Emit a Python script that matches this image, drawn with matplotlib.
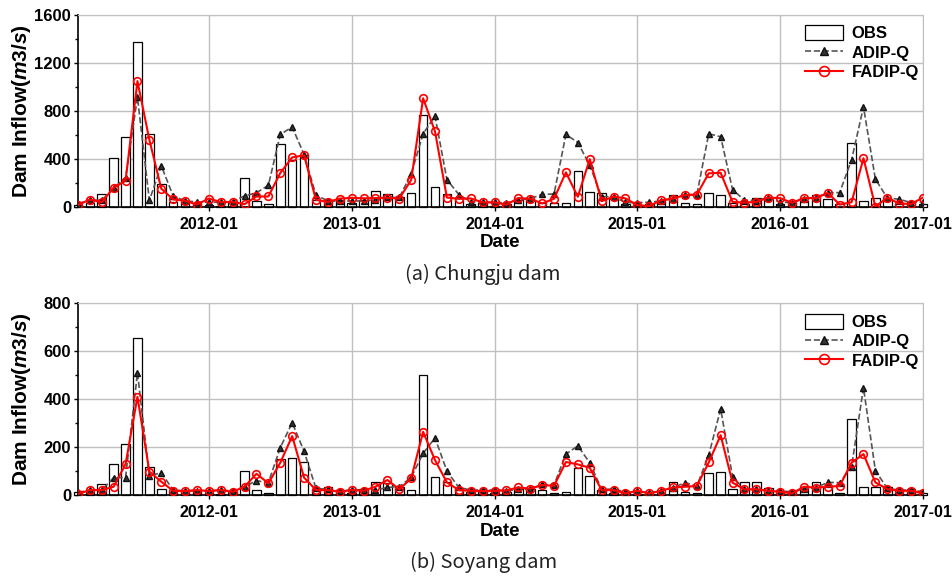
import matplotlib
matplotlib.use("Agg")
import matplotlib.pyplot as plt
from matplotlib.ticker import MultipleLocator
import numpy as np

plt.rcParams['font.family'] = ['Liberation Sans', 'DejaVu Sans']
plt.rcParams['mathtext.fontset'] = 'custom'
plt.rcParams['mathtext.it'] = 'Liberation Sans:italic:bold'
plt.rcParams['mathtext.rm'] = 'Liberation Sans:bold'

# monthly series, first month at index 0 (2011-02 .. 2017-01)
tick_pos = [11, 23, 35, 47, 59, 71]
tick_labels = ["2012-01", "2013-01", "2014-01", "2015-01", "2016-01", "2017-01"]

obs_cj = [14, 34, 104, 406, 585, 1376, 610, 190, 42, 42, 35, 14, 8, 42, 238, 50, 28, 525, 393, 436,
          56, 56, 56, 30, 55, 130, 105, 86, 114, 769, 165, 105, 72, 25, 30, 10, 26, 58, 58, 30,
          30, 30, 300, 122, 114, 70, 25, 11, 28, 48, 103, 34, 22, 112, 103, 36, 22, 78, 64, 22,
          36, 53, 103, 64, 28, 529, 53, 78, 56, 28, 42, 25]
adip_cj = [25, 60, 54, 158, 244, 915, 55, 344, 91, 50, 42, 38, 40, 45, 92, 118, 180, 604, 666, 437,
           96, 52, 46, 50, 50, 60, 79, 79, 275, 610, 758, 228, 103, 42, 40, 37, 35, 56, 70, 104,
           108, 604, 537, 347, 86, 86, 37, 36, 39, 50, 70, 103, 103, 610, 585, 145, 56, 53, 78, 39,
           36, 67, 78, 117, 120, 392, 834, 232, 75, 64, 36, 42]
fadip_cj = [17, 61, 40, 160, 218, 1049, 560, 152, 63, 51, 20, 70, 40, 42, 23, 87, 87, 283, 413, 430,
            59, 42, 70, 75, 72, 74, 77, 70, 225, 906, 629, 78, 68, 71, 38, 38, 18, 74, 68, 29,
            68, 288, 85, 398, 48, 86, 72, 14, 8, 56, 70, 98, 103, 280, 285, 42, 36, 42, 78, 73,
            34, 75, 73, 117, 20, 39, 406, 2, 78, 28, 25, 78]

obs_sy = [12, 15, 47, 130, 212, 657, 118, 26, 14, 18, 18, 8, 6, 15, 101, 22, 10, 150, 157, 139,
          25, 33, 18, 11, 25, 57, 50, 36, 21, 500, 78, 57, 29, 15, 14, 8, 15, 25, 25, 22,
          10, 15, 112, 81, 22, 11, 15, 6, 6, 8, 54, 12, 8, 94, 97, 25, 57, 57, 29, 18,
          12, 36, 57, 33, 8, 317, 36, 33, 33, 15, 25, 11]
adip_sy = [12, 22, 22, 74, 74, 511, 82, 94, 22, 19, 19, 18, 22, 18, 36, 61, 53, 199, 303, 183,
           29, 25, 18, 22, 22, 22, 33, 36, 75, 175, 240, 101, 33, 22, 22, 22, 19, 25, 25, 46,
           43, 172, 206, 136, 25, 26, 15, 18, 11, 18, 32, 53, 39, 168, 360, 78, 25, 25, 19, 18,
           15, 25, 32, 54, 53, 119, 449, 103, 29, 22, 22, 15]
fadip_sy = [6, 22, 22, 36, 130, 411, 99, 57, 19, 18, 22, 18, 22, 15, 36, 90, 50, 136, 247, 74,
            22, 22, 15, 22, 19, 36, 64, 25, 71, 265, 147, 54, 22, 19, 18, 19, 21, 33, 28, 43,
            40, 139, 129, 115, 22, 22, 8, 19, 8, 19, 33, 36, 39, 137, 251, 53, 25, 25, 19, 15,
            8, 36, 32, 36, 39, 136, 172, 54, 26, 19, 19, 8]


def panel(ax, obs, adip, fadip, ymax, ystep):
    x = np.arange(len(obs))
    b = ax.bar(x, obs, width=0.72, color='white', edgecolor='black', linewidth=0.9,
               zorder=2, clip_on=False)
    l1, = ax.plot(x, adip, '--', color='#555555', lw=1.2, marker='^', ms=4.5,
                  mfc='#333333', mec='#111111', zorder=3)
    l2, = ax.plot(x, fadip, '-', color='#ff0000', lw=1.5, marker='o', ms=5.5,
                  mfc='none', mec='#ff0000', mew=1.2, zorder=4)
    ax.set_xlim(0, 71)
    ax.set_ylim(0, ymax)
    ax.set_xticks(tick_pos)
    ax.set_xticklabels(tick_labels, fontsize=11.5, fontweight='bold')
    ax.yaxis.set_major_locator(MultipleLocator(ystep))
    ax.yaxis.set_minor_locator(MultipleLocator(ystep / 2))
    for lab in ax.get_yticklabels():
        lab.set_fontsize(12)
        lab.set_fontweight('bold')
    ax.tick_params(axis='x', direction='inout', length=6, width=1, pad=4)
    ax.tick_params(axis='y', which='major', direction='out', length=3, width=1, pad=2)
    ax.tick_params(axis='y', which='minor', direction='out', length=2.5, width=1)
    ax.grid(True, color='#c0c0c0', lw=1, zorder=0)
    ax.set_axisbelow(True)
    for s in ['top', 'right']:
        ax.spines[s].set_color('#c0c0c0')
    for s in ['left', 'bottom']:
        ax.spines[s].set_linewidth(1.2)
    ax.set_xlabel('Date', fontsize=13.5, fontweight='bold', labelpad=2)
    ax.set_ylabel(r'Dam Inflow($\mathit{m3/s}$)', fontsize=15, fontweight='bold')
    ax.yaxis.set_label_coords(-0.053, 0.5)
    ax.legend([b, l1, l2], ['OBS', 'ADIP-Q', 'FADIP-Q'], loc='upper right',
              bbox_to_anchor=(1.013, 1.025), frameon=False,
              prop={'weight': 'bold', 'size': 12}, handlelength=2.3, handleheight=1.0,
              handletextpad=0.5, labelspacing=0.2, markerscale=1.3)


fig = plt.figure(figsize=(9.53, 5.78), dpi=100)
ax1 = fig.add_axes([0.0818, 0.642, 0.8867, 0.332])
ax2 = fig.add_axes([0.0818, 0.143, 0.8867, 0.332])

panel(ax1, obs_cj, adip_cj, fadip_cj, 1600, 400)
panel(ax2, obs_sy, adip_sy, fadip_sy, 800, 200)

fig.text(0.507, 0.525, '(a) Chungju dam', ha='center', va='center', fontsize=14.5,
         family=['Noto Sans CJK KR', 'DejaVu Sans'], color='#222222')
fig.text(0.507, 0.027, '(b) Soyang dam', ha='center', va='center', fontsize=14.5,
         family=['Noto Sans CJK KR', 'DejaVu Sans'], color='#222222')

fig.savefig('out.png', dpi=100)
